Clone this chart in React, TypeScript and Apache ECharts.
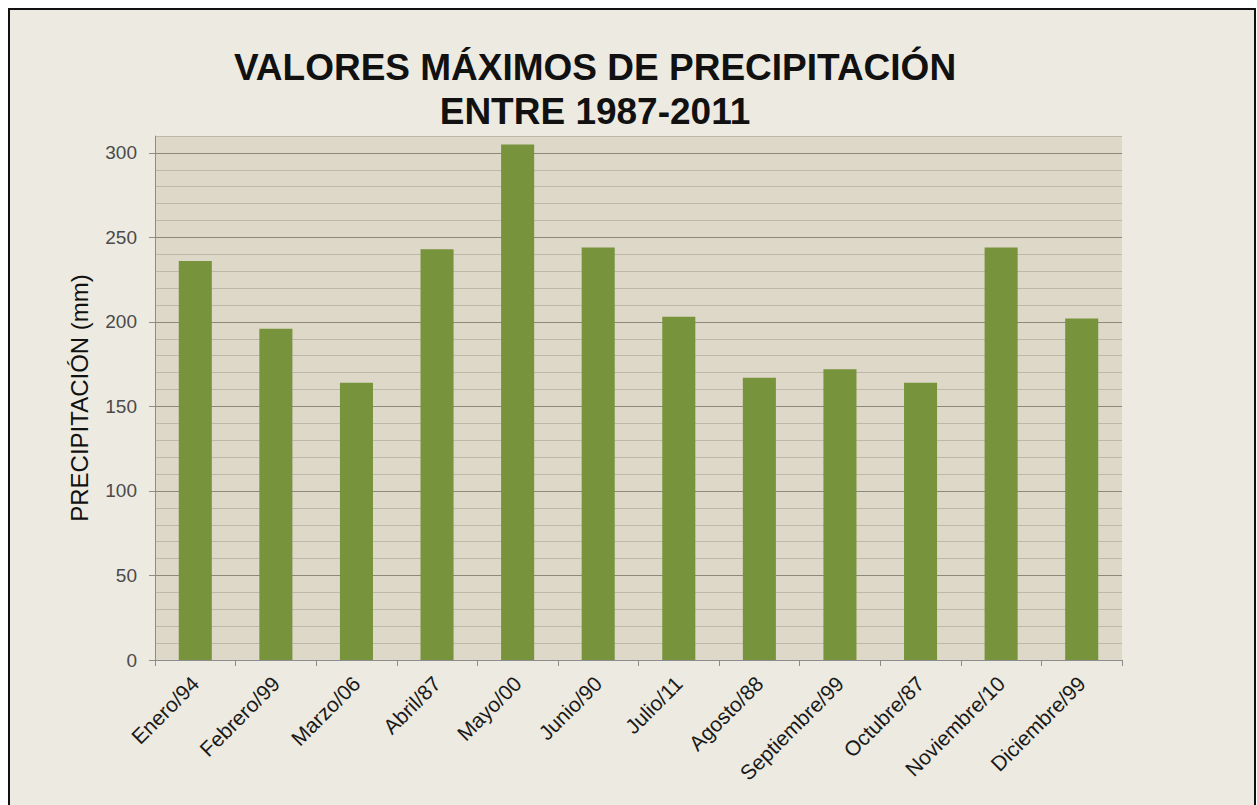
import React, { useEffect, useRef } from "react";
import * as echarts from "echarts";

const categories = [
  "Enero/94", "Febrero/99", "Marzo/06", "Abril/87", "Mayo/00", "Junio/90",
  "Julio/11", "Agosto/88", "Septiembre/99", "Octubre/87", "Noviembre/10", "Diciembre/99",
];
const precipitation = [236, 196, 164, 243, 305, 244, 203, 167, 172, 164, 244, 202];
const majorTicks = [0, 50, 100, 150, 200, 250, 300];
const titleLines = ["VALORES MÁXIMOS DE PRECIPITACIÓN", "ENTRE 1987-2011"];
const yAxisTitle = "PRECIPITACIÓN (mm)";

const FONT = "'Liberation Sans', Arial, sans-serif";

export default function App() {
  const ref = useRef<HTMLDivElement>(null);
  useEffect(() => {
    if (!ref.current) return;
    const chart = echarts.init(ref.current, null, { renderer: "svg" });
    const minorColors: string[] = [];
    for (let v = 0; v <= 310; v += 10) {
      minorColors.push(v % 50 === 0 ? "rgba(0,0,0,0)" : "#BDB8A9");
    }
    const majorColors = majorTicks.map(() => "#8C887C");
    majorColors.push("#BDB8A9");
    chart.setOption({
      animation: false,
      backgroundColor: "#FFFFFF",
      graphic: [
        {
          type: "rect",
          z: -10,
          silent: true,
          shape: { x: 9, y: 9, width: 1246, height: 810 },
          style: { fill: "#EDEBE1", stroke: "#111111", lineWidth: 2 },
        },
        {
          type: "text",
          x: 595,
          y: 45,
          z: 10,
          style: {
            text: titleLines.join("\n"),
            font: "bold 37px " + FONT,
            fill: "#111111",
            align: "center",
            verticalAlign: "top",
            lineHeight: 44,
          },
        },
      ],
      grid: {
        left: 155,
        right: 135,
        top: 136,
        bottom: 145,
        show: true,
        backgroundColor: "#DDD8C7",
        borderWidth: 0,
        containLabel: false,
      },
      xAxis: {
        type: "category",
        data: categories,
        boundaryGap: true,
        axisLine: { show: true, lineStyle: { color: "#8C8C8C", width: 1 } },
        axisTick: { show: true, alignWithLabel: false, length: 6, lineStyle: { color: "#8C8C8C" } },
        axisLabel: {
          interval: 0,
          rotate: 45,
          margin: 20,
          color: "#1A1A1A",
          fontSize: 21,
          fontFamily: FONT,
        },
        splitLine: { show: false },
      },
      yAxis: [
        {
          type: "value",
          min: 0,
          max: 310,
          interval: 50,
          name: yAxisTitle,
          nameLocation: "middle",
          nameGap: 64,
          nameRotate: 90,
          nameTextStyle: {
            color: "#111111",
            fontSize: 24,
            fontFamily: FONT,
          },
          axisLine: { show: true, lineStyle: { color: "#8C8C8C" } },
          axisTick: { show: true, length: 6, customValues: majorTicks, lineStyle: { color: "#8C8C8C" } },
          axisLabel: {
            customValues: majorTicks,
            color: "#4A4A4A",
            fontSize: 19,
            margin: 18,
            fontFamily: FONT,
          },
          splitLine: { show: true, lineStyle: { color: majorColors, width: 1 } },
        },
        {
          type: "value",
          min: 0,
          max: 310,
          interval: 10,
          position: "left",
          axisLine: { show: false },
          axisTick: { show: false },
          axisLabel: { show: false },
          splitLine: { show: true, lineStyle: { color: minorColors, width: 1 } },
        },
      ],
      series: [
        {
          type: "bar",
          yAxisIndex: 0,
          data: precipitation,
          barCategoryGap: "59%",
          itemStyle: { color: "#77933C" },
          z: 5,
        },
      ],
    });
    return () => chart.dispose();
  }, []);
  return (
    <div
      ref={ref}
      style={{ position: "fixed", left: 0, top: 0, width: 1257, height: 805 }}
    />
  );
}
